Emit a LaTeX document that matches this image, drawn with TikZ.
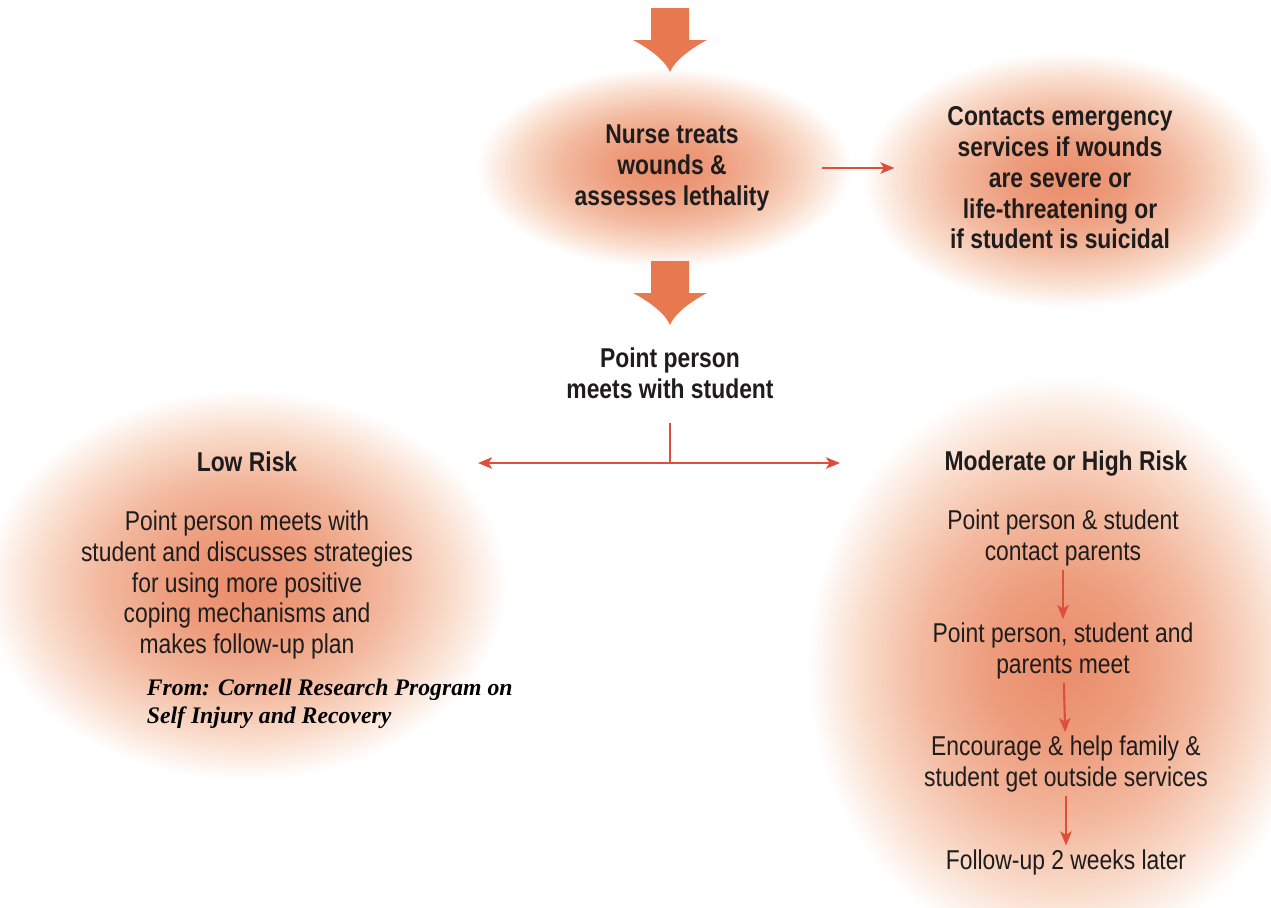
\documentclass[tikz,border=0pt]{standalone}
\usepackage{fontspec}
\setmainfont{Liberation Serif}
\newfontfamily\chartfont[FakeStretch=0.84]{Liberation Sans}
\usetikzlibrary{arrows.meta}

\definecolor{glowcore}{RGB}{234,140,106}
\definecolor{glowinner}{RGB}{237,156,124}
\definecolor{glowmid}{RGB}{243,186,160}
\definecolor{glowedge}{RGB}{250,222,206}
\definecolor{fatorange}{RGB}{232,120,80}
\definecolor{linered}{RGB}{222,78,58}
\definecolor{ink}{RGB}{30,28,28}

% the ellipse edge lands at 25bp of the shading
\pgfdeclareradialshading{glow}{\pgfpoint{0bp}{0bp}}{%
  color(0bp)=(glowcore); color(7bp)=(glowinner); color(14bp)=(glowmid);
  color(20bp)=(glowedge); color(25bp)=(white); color(100bp)=(white)}

\begin{document}
\begin{tikzpicture}[x=0.02cm,y=0.02cm,
  txt/.style={font=\chartfont\fontsize{15.5}{17.5}\selectfont, text=ink, align=center, inner sep=2pt},
  boldtxt/.style={txt, font=\chartfont\bfseries\fontsize{15.5}{17.5}\selectfont},
  redline/.style={draw=linered, line width=1.2pt},
  redarrow/.style={redline, -{Stealth[length=8pt,width=6.5pt,inset=2pt]}},
  fatarrow/.pic={
    \fill[fatorange] (0,0) .. controls (4,10) and (18,22) .. (37,32) -- (19,32) -- (19,64)
      -- (-19,64) -- (-19,32) -- (-37,32) .. controls (-18,22) and (-4,10) .. (0,0) -- cycle;
  }]
\useasboundingbox (0,0) rectangle (1271,-907);

% glows
\shade[shading=glow] (664,-168) ellipse [x radius=188, y radius=100];
\shade[shading=glow] (1068,-180) ellipse [x radius=205, y radius=128];
\shade[shading=glow] (245,-585) ellipse [x radius=262, y radius=195];
\shade[shading=glow] (1062,-665) ellipse [x radius=255, y radius=290];

% big arrows
\pic at (670,-72) {fatarrow};
\pic at (670,-325) {fatarrow};

\node[boldtxt] (nurse) at (672,-168) {Nurse treats\\wounds \&\\assesses lethality};
\node[boldtxt] (contacts) at (1060,-178) {Contacts emergency\\services if wounds\\are severe or\\life-threatening or\\if student is suicidal};
\node[boldtxt] (point) at (670,-373) {Point person\\meets with student};

\node[boldtxt] (lowtitle) at (247,-462) {Low Risk};
\node[txt] (lowbody) at (247,-585) {Point person meets with\\student and discusses strategies\\for using more positive\\coping mechanisms and\\makes follow-up plan};

\node[boldtxt] (modtitle) at (1066,-464) {Moderate or High Risk};
\node[txt] (modA) at (1063,-538) {Point person \& student\\contact parents};
\node[txt] (modB) at (1063,-651) {Point person, student and\\parents meet};
\node[txt] (modC) at (1066,-764) {Encourage \& help family \&\\student get outside services};
\node[txt] (modD) at (1066,-862) {Follow-up 2 weeks later};

\node[anchor=west, align=left, inner sep=2pt, font=\bfseries\itshape\fontsize{13.5}{16}\selectfont] (source) at (143,-704) {From: Cornell Research Program on\\Self Injury and Recovery};

\coordinate (split) at (670,-463);
\coordinate (toLow) at (478,-463);
\coordinate (toMod) at (840,-463);

\draw[redarrow, shorten <=28pt, shorten >=28pt] (nurse.east) -- (nurse.east -| contacts.west);
\draw[redline, shorten <=12pt] (point.south) -- (split);
\draw[redarrow] (split) -- (toLow);
\draw[redarrow] (split) -- (toMod);
\draw[redarrow] (modA) -- (modB);
\draw[redarrow] (modB) -- (modC);
\draw[redarrow] (modC) -- (modD);
\end{tikzpicture}
\end{document}
